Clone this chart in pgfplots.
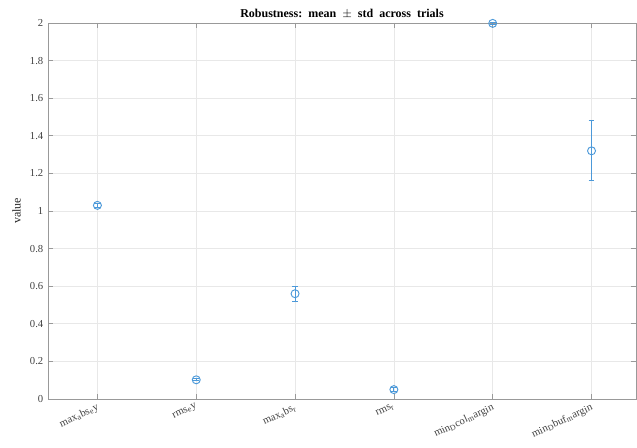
\documentclass[border=0pt]{standalone}
\usepackage{pgfplots}
\pgfplotsset{compat=1.18}
\usepackage{fontspec}
\setmainfont{Liberation Serif}
\definecolor{eblue}{rgb}{0.30,0.60,0.85}
\newcommand{\sub}[1]{\textsubscript{#1}}
\begin{document}
\begin{tikzpicture}
\begin{axis}[
  scale only axis,
  width=441pt, height=282pt,
  xmin=0.5, xmax=6.45,
  ymin=0, ymax=2,
  xtick={1,2,3,4,5,6},
  xticklabels={max\sub{a}bs\sub{e}y, rms\sub{e}y, max\sub{a}bs\sub{r}, rms\sub{r}, min\sub{D}col\sub{m}argin, min\sub{D}buf\sub{m}argin},
  x tick label style={rotate=25, anchor=north east, font=\footnotesize, text=black!75, inner sep=2pt},
  ytick={0,0.2,...,2},
  yticklabels={0,0.2,0.4,0.6,0.8,1,1.2,1.4,1.6,1.8,2},
  y tick label style={font=\footnotesize, text=black!75},
  ylabel={value},
  ylabel style={font=\small, text=black!85},
  title={\textbf{Robustness:\ \ mean\ \ $\pm$\ \ std\ \ across\ \ trials}},
  title style={font=\small, yshift=-6pt},
  grid=major,
  major grid style={gray!18, line width=0.5pt},
  axis line style={gray!80, line width=0.6pt},
  tick style={gray!80, line width=0.5pt},
  tick align=inside,
  tick pos=both,
  major tick length=4pt,
  clip=false,
]
% error bars (mean - std .. mean + std) with caps
\addplot[draw=eblue, line width=0.8pt, no marks, unbounded coords=jump] coordinates {
  (0.97,1.018) (1.03,1.018) (nan,nan) (1,1.018) (1,1.042) (nan,nan) (0.97,1.042) (1.03,1.042) (nan,nan)
  (1.97,0.096) (2.03,0.096) (nan,nan) (2,0.096) (2,0.108) (nan,nan) (1.97,0.108) (2.03,0.108) (nan,nan)
  (2.97,0.52) (3.03,0.52) (nan,nan) (3,0.52) (3,0.60) (nan,nan) (2.97,0.60) (3.03,0.60) (nan,nan)
  (3.97,0.04) (4.03,0.04) (nan,nan) (4,0.04) (4,0.06) (nan,nan) (3.97,0.06) (4.03,0.06) (nan,nan)
  (4.97,1.992) (5.03,1.992) (nan,nan) (5,1.992) (5,2.004) (nan,nan) (4.97,2.004) (5.03,2.004) (nan,nan)
  (5.97,1.16) (6.03,1.16) (nan,nan) (6,1.16) (6,1.48) (nan,nan) (5.97,1.48) (6.03,1.48)
};
% means
\addplot[only marks, mark=o, mark size=3pt, mark options={draw=eblue, line width=0.7pt, fill=none}] coordinates {
  (1,1.03) (2,0.102) (3,0.56) (4,0.05) (5,1.998) (6,1.32)
};
\end{axis}
\path (current axis.south west) ++(-36pt,-36.75pt) coordinate (bbA);
\path (current axis.north east) ++(0.75pt,17.25pt) coordinate (bbB);
\pgfresetboundingbox
\path (bbA) rectangle (bbB);
\end{tikzpicture}
\end{document}
